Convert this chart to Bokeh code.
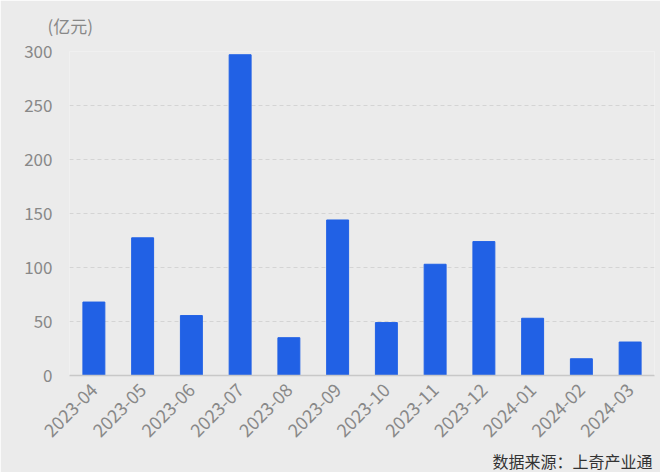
from bokeh.plotting import figure
from bokeh.models import Title, FactorRange, Range1d, FixedTicker
from bokeh.embed import file_html
from bokeh.resources import INLINE
from math import pi

months = ["2023-04", "2023-05", "2023-06", "2023-07", "2023-08", "2023-09",
          "2023-10", "2023-11", "2023-12", "2024-01", "2024-02", "2024-03"]
amounts = [68, 127.5, 55.5, 297, 35, 144, 49, 103, 124, 53, 15.5, 31]
y_ticks = [0, 50, 100, 150, 200, 250, 300]
unit_label = "(亿元)"
source_label = "数据来源：上奇产业通"

FONT = "Noto Sans CJK SC"
BG = "#ebebeb"

p = figure(width=660, height=472, x_range=FactorRange(factors=months, range_padding=0),
           y_range=Range1d(0, 300), output_backend="svg", toolbar_location=None,
           background_fill_color=BG, border_fill_color=BG,
           min_border_left=69, min_border_right=6, min_border_top=51, min_border_bottom=96)
p.outline_line_color = None

p.vbar(x=months, top=amounts, width=0.45, color="#2161e5")

p.xgrid.grid_line_color = None
p.ygrid.grid_line_color = "#d4d4d4"
p.ygrid.grid_line_dash = "4 3"
p.ygrid.grid_line_width = 1

p.yaxis.ticker = FixedTicker(ticks=y_ticks)
p.yaxis.axis_line_color = None
p.yaxis.major_tick_line_color = None
p.yaxis.minor_tick_line_color = None
p.yaxis.major_label_text_font = FONT
p.yaxis.major_label_text_font_size = "17px"
p.yaxis.major_label_text_color = "#888888"
p.yaxis.major_label_standoff = 11

p.xaxis.axis_line_color = "#c8c8c8"
p.xaxis.axis_line_width = 1.5
p.xaxis.major_tick_line_color = None
p.xaxis.minor_tick_line_color = None
p.xaxis.major_label_orientation = pi / 4
p.xaxis.major_label_text_font = FONT
p.xaxis.major_label_text_font_size = "18px"
p.xaxis.major_label_text_color = "#888888"
p.xaxis.major_label_standoff = 5

p.title.text = unit_label
p.title.align = "left"
p.title.vertical_align = "top"
p.title.offset = -22
p.title.text_font = FONT
p.title.text_font_size = "17px"
p.title.text_font_style = "normal"
p.title.text_color = "#888888"
p.title.standoff = 24

p.add_layout(Title(text=source_label, align="right", offset=2, text_font=FONT,
                   text_font_size="16px", text_font_style="normal",
                   text_color="#333333", standoff=0), "below")

open("out.html", "w").write(file_html(p, INLINE))
